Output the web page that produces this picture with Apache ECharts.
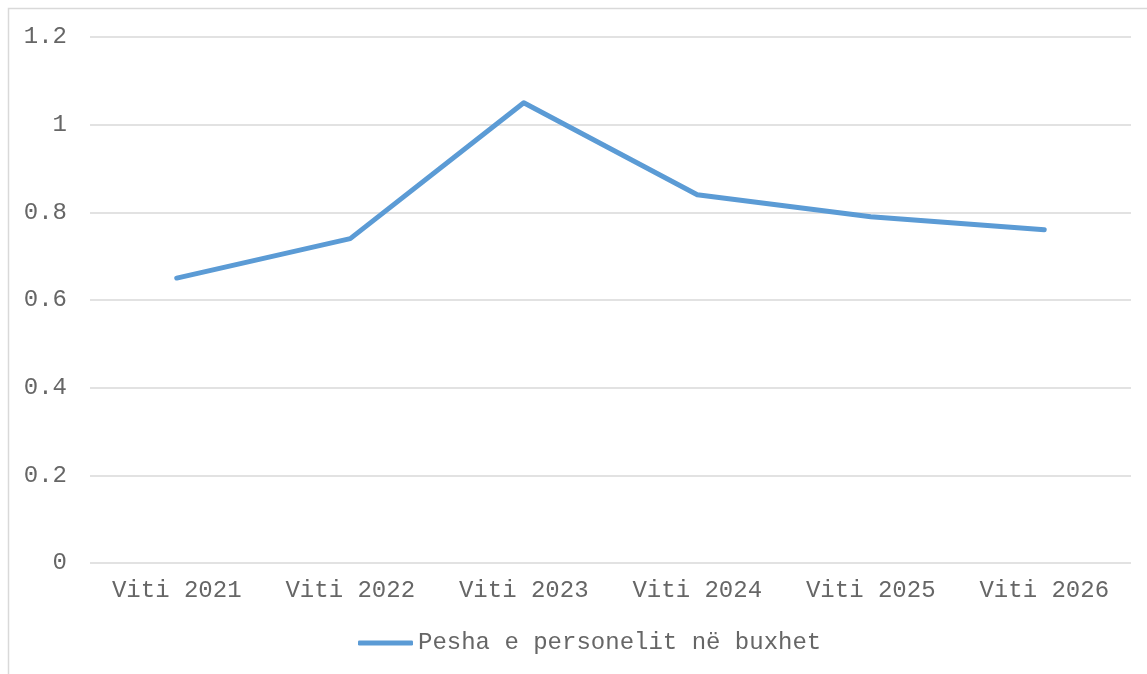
<!DOCTYPE html>
<html>
<head>
<meta charset="utf-8">
<script src="https://cdn.jsdelivr.net/npm/echarts@6/dist/echarts.min.js"></script>
<style>
  html, body { margin: 0; padding: 0; background: #fff; }
  #chart { width: 1147px; height: 674px; }
</style>
</head>
<body>
<div id="chart"></div>
<script>
// Years and the personnel share of the budget
const categories = ['Viti 2021', 'Viti 2022', 'Viti 2023', 'Viti 2024', 'Viti 2025', 'Viti 2026'];
const seriesName = 'Pesha e personelit në buxhet';
const values = [0.65, 0.74, 1.05, 0.84, 0.79, 0.76];
const yTicks = { min: 0, max: 1.2, interval: 0.2 };

const FONT = '"Liberation Mono", "Courier New", monospace';
const TEXT = '#666666';

const chart = echarts.init(document.getElementById('chart'), null, { renderer: 'canvas' });
chart.setOption({
  animation: false,
  backgroundColor: '#fff',
  graphic: [{
    type: 'rect',
    silent: true,
    shape: { x: 8.5, y: 8.5, width: 1200, height: 700 },
    style: { fill: 'none', stroke: '#d9d9d9', lineWidth: 1.5 }
  }],
  grid: { left: 90, right: 16, top: 37, bottom: 111, containLabel: false },
  legend: {
    left: 353,
    top: 626,
    itemWidth: 55,
    itemHeight: 5,
    itemGap: 10,
    icon: 'roundRect',
    textStyle: { fontFamily: FONT, fontSize: 24, color: TEXT, padding: [0, 0, 0, 0] },
    data: [seriesName]
  },
  xAxis: {
    type: 'category',
    data: categories,
    boundaryGap: true,
    axisLine: { show: false },
    axisTick: { show: false },
    axisLabel: { fontFamily: FONT, fontSize: 24, color: TEXT, margin: 16 }
  },
  yAxis: {
    type: 'value',
    min: yTicks.min,
    max: yTicks.max,
    interval: yTicks.interval,
    axisLine: { show: false },
    axisTick: { show: false },
    axisLabel: { fontFamily: FONT, fontSize: 24, color: TEXT, margin: 23 },
    splitLine: { lineStyle: { color: '#d9d9d9', width: 1.5 } }
  },
  series: [{
    name: seriesName,
    type: 'line',
    data: values,
    symbol: 'none',
    lineStyle: { color: '#5b9bd5', width: 5, cap: 'round', join: 'round' },
    itemStyle: { color: '#5b9bd5' }
  }]
});
</script>
</body>
</html>
